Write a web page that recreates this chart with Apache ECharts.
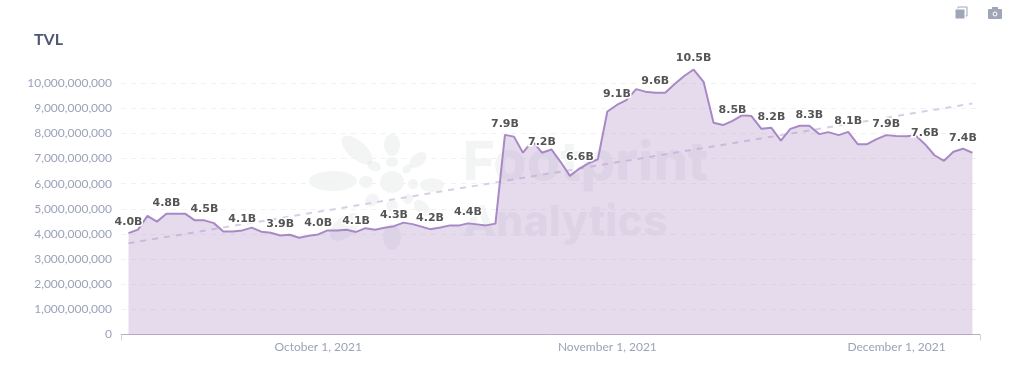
<!DOCTYPE html>
<html>
<head>
<meta charset="utf-8">
<title>TVL</title>
<script src="https://cdn.jsdelivr.net/npm/echarts@6/dist/echarts.min.js"></script>
<style>
html, body { margin: 0; padding: 0; background: #fff; }
#chart { width: 1014px; height: 391px; }
</style>
</head>
<body>
<div id="chart"></div>
<script>
// TVL in billions, roughly daily from 2021-09-11
const tvlBillions = [
    4.03, 4.17, 4.72, 4.49, 4.80, 4.80, 4.80, 4.54, 4.54, 4.43,
    4.10, 4.10, 4.14, 4.25, 4.09, 4.05, 3.94, 3.97, 3.85, 3.93,
    3.98, 4.14, 4.14, 4.17, 4.08, 4.23, 4.17, 4.25, 4.31, 4.45,
    4.39, 4.29, 4.19, 4.26, 4.34, 4.34, 4.42, 4.38, 4.34, 4.41,
    7.94, 7.87, 7.23, 7.70, 7.23, 7.36, 6.85, 6.31, 6.61, 6.81,
    6.97, 8.87, 9.13, 9.32, 9.76, 9.66, 9.62, 9.62, 9.96, 10.28,
    10.54, 10.05, 8.42, 8.33, 8.50, 8.72, 8.69, 8.18, 8.22, 7.71,
    8.18, 8.30, 8.30, 7.97, 8.05, 7.93, 8.06, 7.57, 7.57, 7.77,
    7.93, 7.90, 7.89, 7.92, 7.57, 7.13, 6.91, 7.27, 7.39, 7.23
];
// where each point sits on the date axis, in days since the first one
const tvlDays = [
    0, 1, 2, 3, 4, 5, 6, 7, 8, 9,
    10, 11, 12, 13, 14, 15, 16, 17, 18, 19,
    20, 21, 22, 23, 24, 25, 26, 27, 28, 29,
    29.95, 30.9, 31.8, 32.9, 33.9, 34.9, 35.8, 36.8, 37.7, 38.7,
    39.7, 40.65, 41.6, 42.6, 43.6, 44.6, 45.6, 46.55, 47.6, 48.5,
    49.5, 50.5, 51.5, 52.5, 53.55, 54.5, 55.55, 56.6, 57.6, 58.6,
    59.6, 60.65, 61.7, 62.7, 63.7, 64.7, 65.7, 66.75, 67.8, 68.8,
    69.8, 70.8, 71.8, 72.85, 73.8, 74.9, 75.9, 76.9, 77.9, 78.9,
    79.9, 80.95, 82, 83, 84, 85, 86, 87, 88, 89
];
const trendDays = [0, 89];
const trendBillions = [3.63, 9.19];
const dateTickDays = [20, 50.5, 81];
const dateTickLabels = ['October 1, 2021', 'November 1, 2021', 'December 1, 2021'];

const axisMin = -0.79;
const axisMax = 89.8;

// every 4th point gets a label
const tvlData = tvlBillions.map((v, i) => ({
    value: [tvlDays[i], v * 1e9],
    label: { show: i % 4 === 0 }
}));

// faint footprint logo: x, y, rx, ry, rotation in degrees
const logoParts = [
    [392, 182, 12, 11, 0], [333, 181, 24, 10, 0], [366, 182, 7, 6, 0],
    [357, 150, 19, 9, -42], [374, 166, 7, 5, -20], [392, 145, 8, 11, 0],
    [392, 162, 6, 5, 0], [418, 160, 10, 6, 40], [407, 169, 5, 4, 40],
    [413, 184, 5, 5, 0], [432, 185, 12, 7, 0], [422, 208, 10, 6, -45],
    [408, 199, 5, 5, 0], [392, 206, 6, 6, 0], [392, 237, 9, 13, 0],
    [372, 200, 7, 6, 30], [345, 227, 18, 10, 40]
];
const watermarkColor = 'rgba(120, 135, 135, 0.085)';
const iconColor = '#a0a6b8';

let graphics = logoParts.map(p => ({
    type: 'ellipse',
    x: p[0],
    y: p[1],
    rotation: p[4] * Math.PI / 180,
    shape: { cx: 0, cy: 0, rx: p[2], ry: p[3] },
    style: { fill: watermarkColor },
    z: 0,
    silent: true
}));
graphics.push(
    {
        type: 'text', x: 463, y: 137, z: 0, silent: true,
        style: { text: 'Footprint', font: '800 54px Inter', fill: watermarkColor }
    },
    {
        type: 'text', x: 463, y: 202, z: 0, silent: true,
        style: { text: 'Analytics', font: '800 43px Inter', fill: watermarkColor }
    },
    // toolbar icons, top right
    { type: 'rect', shape: { x: 958, y: 7, width: 9, height: 9 }, style: { fill: '#fff', stroke: iconColor, lineWidth: 1 } },
    { type: 'rect', shape: { x: 955, y: 9, width: 10, height: 10 }, style: { fill: iconColor, stroke: '#fff', lineWidth: 1 } },
    { type: 'rect', shape: { x: 988, y: 9, width: 14, height: 10, r: 1 }, style: { fill: iconColor } },
    { type: 'rect', shape: { x: 992, y: 7, width: 6, height: 3 }, style: { fill: iconColor } },
    { type: 'circle', shape: { cx: 995, cy: 14, r: 2 }, style: { fill: 'none', stroke: '#fff', lineWidth: 1 } }
);

const chart = echarts.init(document.getElementById('chart'), null, { renderer: 'canvas' });
chart.setOption({
    animation: false,
    title: {
        text: 'TVL',
        left: 29,
        top: 27,
        textStyle: { fontFamily: 'Lato', fontSize: 16, fontWeight: 'bold', color: '#4c5773' }
    },
    graphic: graphics,
    grid: { left: 121, right: 34, top: 68, height: 266.5 },
    xAxis: {
        type: 'value',
        min: axisMin,
        max: axisMax,
        axisLine: { lineStyle: { color: '#b9aecb', width: 1 } },
        axisTick: { show: true, length: 6, customValues: [axisMin, axisMax], lineStyle: { color: '#d4d4d8' } },
        axisLabel: {
            customValues: dateTickDays,
            margin: 7,
            fontFamily: 'Lato',
            fontSize: 12,
            color: '#9ca3b8',
            formatter: val => dateTickLabels[dateTickDays.indexOf(val)]
        },
        splitLine: { show: false }
    },
    yAxis: {
        type: 'value',
        min: 0,
        max: 10.6e9,
        interval: 1e9,
        axisLine: { show: false },
        axisTick: { show: false },
        axisLabel: {
            showMaxLabel: false,
            margin: 9,
            fontFamily: 'Lato',
            fontSize: 12,
            color: '#9ca3b8',
            formatter: v => v.toLocaleString('en-US')
        },
        splitLine: {
            showMaxLine: false,
            lineStyle: { color: '#f1f1f3', type: [5, 5], width: 1 }
        }
    },
    series: [
        {
            name: 'TVL',
            type: 'line',
            data: tvlData,
            // labels need a symbol to hang on, so keep an invisible one
            symbol: 'circle',
            symbolSize: 1,
            showSymbol: true,
            showAllSymbol: true,
            lineStyle: { color: '#a989c5', width: 2 },
            itemStyle: { color: 'transparent' },
            areaStyle: { color: '#a989c5', opacity: 0.3 },
            label: {
                position: 'top',
                distance: 5,
                fontFamily: 'DejaVu Sans',
                fontSize: 11,
                fontWeight: 'bold',
                color: '#555',
                textBorderColor: '#fff',
                textBorderWidth: 3,
                formatter: p => (p.value[1] / 1e9).toFixed(1) + 'B'
            },
            labelLayout: { hideOverlap: false },
            z: 3
        },
        {
            name: 'Trend',
            type: 'line',
            data: trendDays.map((d, i) => [d, trendBillions[i] * 1e9]),
            symbol: 'none',
            lineStyle: { color: '#dacde7', width: 2, type: [6, 6] },
            z: 2
        }
    ]
});
</script>
</body>
</html>
